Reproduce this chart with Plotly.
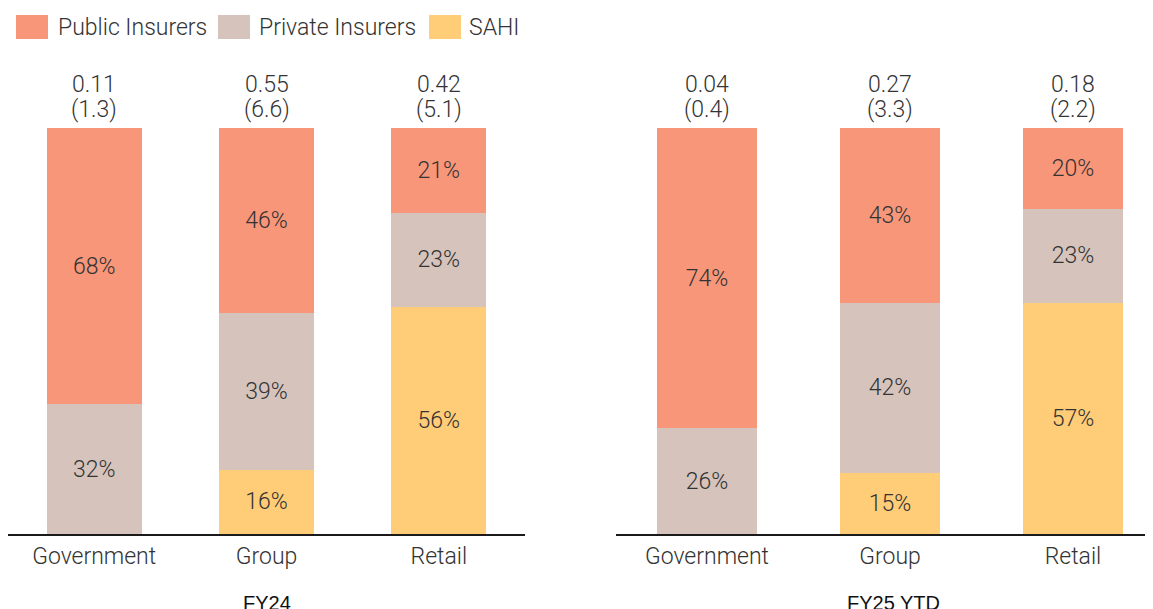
import plotly.graph_objects as go

categories = ["Government", "Group", "Retail"]

fy24_public = [68, 46, 21]
fy24_private = [32, 39, 23]
fy24_sahi = [0, 16, 56]
fy24_top = ["0.11", "0.55", "0.42"]
fy24_sub = ["(1.3)", "(6.6)", "(5.1)"]

fy25_public = [74, 43, 20]
fy25_private = [26, 42, 23]
fy25_sahi = [0, 15, 57]
fy25_top = ["0.04", "0.27", "0.18"]
fy25_sub = ["(0.4)", "(3.3)", "(2.2)"]

period_titles = ["FY24", "FY25 YTD"]
series_names = ["Public Insurers", "Private Insurers", "SAHI"]
colors = ["#F8967A", "#D6C4BC", "#FFCC77"]

W, H = 1153, 609
OFF = 8  # page body offset
FONT = "Roboto, 'Noto Sans', sans-serif"
TXT = "#333333"
FS = 23

fig = go.Figure()

periods = [
    (fy24_public, fy24_private, fy24_sahi, fy24_top, fy24_sub, "x", "y"),
    (fy25_public, fy25_private, fy25_sahi, fy25_top, fy25_sub, "x2", "y2"),
]


def px_x(p):
    return (p - OFF) / W


def px_y(p):
    return (H - (p - OFF)) / H


for pub, priv, sahi, top, sub, xa, ya in periods:
    # stack bottom to top: SAHI, Private, Public
    for name, vals, col in zip(series_names[::-1], [sahi, priv, pub], colors[::-1]):
        fig.add_trace(go.Bar(
            x=categories, y=vals, name=name, marker=dict(color=col, line=dict(width=0)),
            text=[f"{v}%" if v > 0 else "" for v in vals],
            textposition="inside", insidetextanchor="middle", textangle=0,
            constraintext="none",
            textfont=dict(family=FONT, size=FS, color=TXT, weight=300),
            xaxis=xa, yaxis=ya, showlegend=False, cliponaxis=False,
        ))
    for c, t, s in zip(categories, top, sub):
        fig.add_annotation(
            x=c, y=px_y(85), xref=xa, yref="paper", yanchor="middle",
            text=t, showarrow=False,
            font=dict(family=FONT, size=FS, color=TXT, weight=300),
        )
        fig.add_annotation(
            x=c, y=px_y(109.5), xref=xa, yref="paper", yanchor="middle",
            text=s, showarrow=False,
            font=dict(family=FONT, size=FS, color=TXT, weight=300),
        )

axis_common = dict(
    showline=True, linecolor="#1a1a1a", linewidth=2, ticks="",
    tickfont=dict(family=FONT, size=FS, color=TXT, weight=300),
    showgrid=False, zeroline=False, fixedrange=True,
)
right_start = 615.5 - OFF
fig.update_layout(
    width=W, height=H,
    margin=dict(l=0, r=0, t=0, b=0),
    barmode="stack", barnorm="percent", bargap=0.45,
    plot_bgcolor="white", paper_bgcolor="white",
    showlegend=False,
    xaxis=dict(domain=[0, px_x(525)], range=[-0.5, 2.5], anchor="y", **axis_common),
    xaxis2=dict(domain=[right_start / W, 1.0], range=[-0.5, (W - right_start) / 183 - 0.5],
                anchor="y2", **axis_common),
    yaxis=dict(domain=[px_y(534), px_y(128)], range=[0, 100], visible=False, fixedrange=True),
    yaxis2=dict(domain=[px_y(534), px_y(128)], range=[0, 100], visible=False, anchor="x2", fixedrange=True),
)

# period titles
for title, xc in zip(period_titles, [267, 893]):
    fig.add_annotation(
        x=px_x(xc), y=px_y(590), xref="paper", yref="paper",
        text=title, showarrow=False, xanchor="center", yanchor="top",
        font=dict(family="'Liberation Sans Narrow', 'Arial Narrow', sans-serif", size=20, color="#111111"),
    )

# custom legend
legend_items = [(16, 56), (218, 257), (429, 467)]
for (sx, tx), name, col in zip(legend_items, series_names, colors):
    fig.add_shape(type="rect", xref="paper", yref="paper",
                  x0=px_x(sx), x1=px_x(sx + 32), y0=px_y(39), y1=px_y(15),
                  fillcolor=col, line=dict(width=0))
    fig.add_annotation(x=px_x(tx), y=px_y(27.5), xref="paper", yref="paper",
                       text=name, showarrow=False, xanchor="left", yanchor="middle",
                       font=dict(family=FONT, size=FS, color=TXT, weight=300))

fig.write_html("out.html")
